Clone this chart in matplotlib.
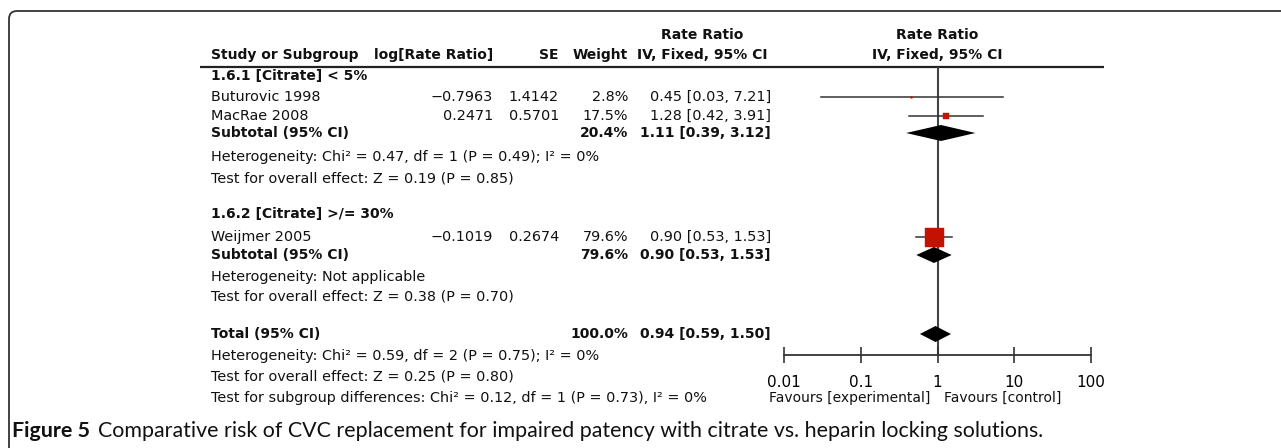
import numpy as np
import matplotlib
matplotlib.use("Agg")
import matplotlib.pyplot as plt
from matplotlib.path import Path
from matplotlib.patches import PathPatch

# ---- data ----
studies = ["Buturovic 1998", "MacRae 2008", "Weijmer 2005"]
log_rr = [-0.7963, 0.2471, -0.1019]
se = [1.4142, 0.5701, 0.2674]
weights = [2.8, 17.5, 79.6]
rr = [0.45, 1.28, 0.90]
rr_lo = [0.03, 0.42, 0.53]
rr_hi = [7.21, 3.91, 1.53]

sub_weights = [20.4, 79.6]
sub_rr = [1.11, 0.90]
sub_lo = [0.39, 0.53]
sub_hi = [3.12, 1.53]

tot_weight = 100.0
tot_rr, tot_lo, tot_hi = 0.94, 0.59, 1.50

ticks = [0.01, 0.1, 1, 10, 100]
tick_labels = ["0.01", "0.1", "1", "10", "100"]

W, H = 1281, 448
FONT = "DejaVu Sans"
FS = 10.4
FSB = 10.0

fig = plt.figure(figsize=(W / 100, H / 100), dpi=100)
bg = fig.add_axes([0, 0, 1, 1])
bg.set_xlim(0, W)
bg.set_ylim(H, 0)
bg.axis("off")

def txt(x, y, s, ha="left", bold=False, size=None, **kw):
    if size is None:
        size = FSB if bold else FS
    bg.text(x, y, s, ha=ha, va="center", fontsize=size, family=FONT,
            fontweight="bold" if bold else "normal", color="#111111", **kw)

def fmt(v):
    return f"{v:.4f}".replace("-", "\u2212")

# frame with rounded top-left corner
verts = [(W, 11), (17, 11), (9, 11), (9, 19), (9, H)]
codes = [Path.MOVETO, Path.LINETO, Path.CURVE3, Path.CURVE3, Path.LINETO]
bg.add_patch(PathPatch(Path(verts, codes), fill=False, lw=1.3, ec="#333333"))

# column anchors (pixels)
x_study, x_log, x_se, x_w, x_ci = 211, 493, 559, 628, 771
x_ci_c, x_plot_c = 702, 937

# header
txt(x_ci_c, 35, "Rate Ratio", ha="center", bold=True)
txt(x_plot_c, 35, "Rate Ratio", ha="center", bold=True)
txt(x_study, 55, "Study or Subgroup", bold=True)
txt(x_log, 55, "log[Rate Ratio]", ha="right", bold=True)
txt(x_se, 55, "SE", ha="right", bold=True)
txt(x_w, 55, "Weight", ha="right", bold=True)
txt(x_ci_c, 55, "IV, Fixed, 95% CI", ha="center", bold=True)
txt(x_plot_c, 55, "IV, Fixed, 95% CI", ha="center", bold=True)
bg.plot([200, 1104], [67, 67], color="#222222", lw=1.6, solid_capstyle="butt")

# rows
study_y = [97, 116, 237]
sub_y = [133, 255]
tot_y = 334

txt(x_study, 76, "1.6.1 [Citrate] < 5%", bold=True)
txt(x_study, 214, "1.6.2 [Citrate] >/= 30%", bold=True)

for i, name in enumerate(studies):
    y = study_y[i]
    txt(x_study, y, name)
    txt(x_log, y, fmt(log_rr[i]), ha="right")
    txt(x_se, y, f"{se[i]:.4f}", ha="right")
    txt(x_w, y, f"{weights[i]:.1f}%", ha="right")
    txt(x_ci, y, f"{rr[i]:.2f} [{rr_lo[i]:.2f}, {rr_hi[i]:.2f}]", ha="right")

for i in range(2):
    y = sub_y[i]
    txt(x_study, y, "Subtotal (95% CI)", bold=True)
    txt(x_w, y, f"{sub_weights[i]:.1f}%", ha="right", bold=True)
    txt(x_ci, y, f"{sub_rr[i]:.2f} [{sub_lo[i]:.2f}, {sub_hi[i]:.2f}]", ha="right", bold=True)

txt(x_study, 157, "Heterogeneity: Chi\u00b2 = 0.47, df = 1 (P = 0.49); I\u00b2 = 0%")
txt(x_study, 178, "Test for overall effect: Z = 0.19 (P = 0.85)")
txt(x_study, 277, "Heterogeneity: Not applicable")
txt(x_study, 297, "Test for overall effect: Z = 0.38 (P = 0.70)")

txt(x_study, tot_y, "Total (95% CI)", bold=True)
txt(x_w, tot_y, f"{tot_weight:.1f}%", ha="right", bold=True)
txt(x_ci, tot_y, f"{tot_rr:.2f} [{tot_lo:.2f}, {tot_hi:.2f}]", ha="right", bold=True)
txt(x_study, 356, "Heterogeneity: Chi\u00b2 = 0.59, df = 2 (P = 0.75); I\u00b2 = 0%")
txt(x_study, 377, "Test for overall effect: Z = 0.25 (P = 0.80)")
txt(x_study, 398, "Test for subgroup differences: Chi\u00b2 = 0.12, df = 1 (P = 0.73), I\u00b2 = 0%")

txt(930, 398, "Favours [experimental]", ha="right", size=10)
txt(944, 398, "Favours [control]", ha="left", size=10)

# caption
bg.text(12, 431, "Figure 5", ha="left", va="center", fontsize=15.4, family="Lato",
        fontweight="bold", color="#111111")
bg.text(98, 431, "Comparative risk of CVC replacement for impaired patency with citrate vs. heparin locking solutions.",
        ha="left", va="center", fontsize=15.4, family="Lato", color="#111111")

# ---- forest panel ----
x0, x1 = 784, 1091
ax = fig.add_axes([x0 / W, 0, (x1 - x0) / W, 1])
ax.set_xscale("log")
ax.set_xlim(0.01, 100)
ax.set_ylim(H, 0)
ax.patch.set_alpha(0)
for s in ["top", "left", "right"]:
    ax.spines[s].set_visible(False)
ax.spines["bottom"].set_position(("data", 355))
ax.spines["bottom"].set_color("#333333")
ax.spines["bottom"].set_linewidth(1.3)
ax.set_yticks([])
ax.set_xticks(ticks)
ax.set_xticklabels(tick_labels, family=FONT, fontsize=11)
ax.minorticks_off()
ax.tick_params(axis="x", direction="inout", length=11, width=1.2, color="#333333", pad=9)

# line of no effect sits behind the markers
ax.vlines(1, 67, 355, color="#444444", lw=1.5, zorder=1)

red = "#c41200"
for i in range(3):
    y = study_y[i]
    ax.plot([rr_lo[i], rr_hi[i]], [y, y], color="#333333", lw=1.1, zorder=2)
    side = 19 * (weights[i] / 79.6) ** 0.75
    ax.plot(rr[i], y, marker="s", ms=side * 0.72, mfc=red, mec=red, mew=0.3,
            ls="none", zorder=3)

def diamond(est, lo, hi, y, h=8):
    ax.fill([lo, est, hi, est], [y, y - h, y, y + h], color="black", lw=0, zorder=3)

for i in range(2):
    diamond(sub_rr[i], sub_lo[i], sub_hi[i], sub_y[i])
diamond(tot_rr, tot_lo, tot_hi, tot_y)

fig.savefig("out.png", dpi=100)
